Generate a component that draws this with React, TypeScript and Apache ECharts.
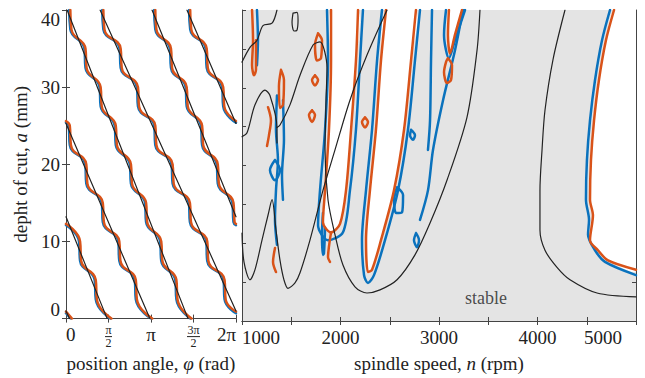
import React, { useEffect, useRef } from "react";
import * as echarts from "echarts";

const PI = Math.PI;
const FONT = "'Liberation Serif', 'DejaVu Serif', serif";
const INK = "#222222";
const ORANGE = "#d95319";
const BLUE = "#0a72bd";
const GRAY = "#e4e4e4";

// ---------- left panel: position angle (rad) vs depth of cut (mm) ----------
const angleTicks = [0, PI / 2, PI, (3 * PI) / 2, 2 * PI];
const angleTickLabels = ["0", "{n|π}\n{b| }\n{d|2}", "π", "{n|3π}\n{c| }\n{d|2}", "2π"];
const depthTickLabels = ["0", "10", "20", "30", "40"];

const angleLines: number[][][] = [
  [[0.04, 40], [4.51, 0]],
  [[1.26, 40], [6.283, 1.0]],
  [[0, 1.0], [0.13, 0]],
  [[3.18, 40], [6.283, 13.2]],
  [[0, 13.2], [1.52, 0]],
  [[4.47, 40], [6.283, 25.3]],
  [[0, 25.3], [3.1, 0]],
];

const angleOrange: number[][][] = [
  [[0.16, 40], [0.2, 37.5], [0.72, 35], [0.76, 32.5], [1.28, 30], [1.32, 27.5], [1.84, 25], [1.88, 22.5], [2.4, 20], [2.44, 17.5], [2.96, 15], [3.0, 12.5], [3.52, 10], [3.56, 7.5], [4.08, 5], [4.12, 2.5], [4.64, 0]],
  [[1.38, 40], [1.42, 37.5], [2.02, 35], [2.06, 32.5], [2.66, 30], [2.7, 27.5], [3.3, 25], [3.34, 22.5], [3.94, 20], [3.98, 17.5], [4.58, 15], [4.62, 12.5], [5.22, 10], [5.26, 7.5], [5.86, 5], [5.9, 2.5], [6.283, 0.9]],
  [[0, 0.9], [0.22, 0]],
  [[3.3, 40], [3.34, 37.5], [3.88, 35], [3.92, 32.5], [4.46, 30], [4.5, 27.5], [5.03, 25], [5.07, 22.5], [5.61, 20], [5.65, 17.5], [6.19, 15], [6.23, 12.5], [6.283, 12.27]],
  [[0, 12.27], [0.52, 10], [0.56, 7.5], [1.1, 5], [1.14, 2.5], [1.68, 0]],
  [[4.59, 40], [4.63, 37.5], [5.2, 35], [5.24, 32.5], [5.81, 30], [5.85, 27.5], [6.283, 25.6]],
  [[0, 25.6], [0.14, 25], [0.18, 22.5], [0.75, 20], [0.79, 17.5], [1.36, 15], [1.4, 12.5], [1.97, 10], [2.01, 7.5], [2.58, 5], [2.62, 2.5], [3.19, 0]],
];

const angleBlue: number[][][] = [
  [[0.12, 40], [0.16, 37.5], [0.68, 35], [0.72, 32.5], [1.24, 30], [1.28, 27.5], [1.8, 25], [1.84, 22.5], [2.36, 20], [2.4, 17.5], [2.92, 15], [2.96, 12.5], [3.48, 10], [3.52, 7.5], [4.04, 5], [4.08, 2.5], [4.6, 0]],
  [[1.34, 40], [1.38, 37.5], [1.98, 35], [2.02, 32.5], [2.62, 30], [2.66, 27.5], [3.26, 25], [3.3, 22.5], [3.9, 20], [3.94, 17.5], [4.54, 15], [4.58, 12.5], [5.18, 10], [5.22, 7.5], [5.82, 5], [5.86, 2.5], [6.283, 0.7]],
  [[0, 0.7], [0.18, 0]],
  [[3.26, 40], [3.3, 37.5], [3.84, 35], [3.88, 32.5], [4.42, 30], [4.46, 27.5], [4.99, 25], [5.03, 22.5], [5.57, 20], [5.61, 17.5], [6.15, 15], [6.19, 12.5], [6.283, 12.1]],
  [[0, 12.1], [0.48, 10], [0.52, 7.5], [1.06, 5], [1.1, 2.5], [1.64, 0]],
  [[4.55, 40], [4.59, 37.5], [5.16, 35], [5.2, 32.5], [5.77, 30], [5.81, 27.5], [6.283, 25.4]],
  [[0, 25.4], [0.1, 25], [0.14, 22.5], [0.71, 20], [0.75, 17.5], [1.32, 15], [1.36, 12.5], [1.93, 10], [1.97, 7.5], [2.54, 5], [2.58, 2.5], [3.15, 0]],
];

// ---------- right panel: spindle speed (rpm) vs depth of cut (mm) ----------
const speedTickLabels = ["1000", "2000", "3000", "4000", "5000"];

const lobeCurves: number[][][] = [
  [[4279, 40], [4157, 33.6], [4076, 27.1], [4046, 22.0], [4025, 16.8], [4025, 11.7], [4076, 9.1], [4198, 6.9], [4330, 5.3], [4604, 3.6], [5000, 3.1]],
  [[1000, 11.3], [1020, 7.6], [1081, 5.3], [1132, 6.6], [1203, 10.4], [1264, 13.6], [1305, 15.6], [1345, 11.7], [1386, 7.8], [1426, 5.3], [1467, 4.2], [1538, 4.9], [1589, 6.2], [1690, 10.4], [1822, 16.8], [1944, 22.0], [2096, 28.4], [2269, 34.2], [2472, 40]],
  [[3416, 40], [3386, 34.8], [3284, 26.2], [3081, 18.1], [2909, 12.6], [2756, 8.5], [2574, 5.3], [2401, 4.0], [2269, 3.6], [2147, 4.4], [2025, 7.2], [1944, 11.1], [1873, 15.6], [1843, 22.0], [1853, 28.4], [1863, 32.6], [1792, 35.9], [1721, 35.5], [1589, 31.6], [1487, 27.8], [1386, 25.2], [1355, 24.9]],
  [[1000, 23.7], [1051, 24.2], [1132, 27.8], [1233, 29.7], [1284, 29.0], [1355, 24.9], [1355, 22.9]],
  [[1000, 33.3], [1081, 35.2], [1152, 36.1], [1213, 38.0], [1305, 38.3], [1355, 40]],
  [[1518, 39.6], [1558, 39.7], [1569, 38.7], [1558, 37.4], [1528, 37.3], [1508, 38.4], [1518, 39.6]],
];

const unstableRegions: number[][][] = [
  [[1904, 40], [2178, 40], [2157, 33.5], [2107, 24.6], [2056, 16.8], [1995, 12.5], [1904, 11.4], [1822, 12.7], [1843, 16.8], [1883, 24.6], [1904, 33.5]],
  [[2462, 40], [2766, 40], [2716, 33.5], [2645, 24.6], [2543, 16.8], [2411, 10.4], [2320, 6.6], [2279, 6.3], [2259, 10.4], [2299, 16.8], [2360, 24.6], [2411, 33.5]],
  [[3101, 40], [3233, 40], [3162, 36.8], [3112, 34.4], [3091, 36.8]],
  [[4777, 40], [5000, 40], [5000, 6.6], [4716, 7.8], [4614, 9.1], [4533, 10.4], [4563, 13.6], [4533, 15.6], [4543, 20.7], [4574, 25.8], [4624, 31.0], [4695, 36.1]],
];

const speedBlue: number[][][] = [
  [[1863, 40], [1873, 33.5], [1843, 24.6], [1792, 16.8], [1772, 12.3], [1873, 10.4], [2025, 11.4], [2096, 16.8], [2157, 24.6], [2198, 33.5], [2228, 40]],
  [[2421, 40], [2371, 33.5], [2320, 24.6], [2259, 16.8], [2218, 10.4], [2239, 5.9], [2279, 4.9], [2340, 5.9], [2452, 10.4], [2584, 16.8], [2685, 24.6], [2756, 33.5], [2807, 40]],
  [[3071, 40], [3051, 36.8], [3101, 33.8], [3162, 36.1], [3264, 40]],
  [[4736, 40], [4655, 36.1], [4584, 31.0], [4533, 25.8], [4502, 20.7], [4492, 15.6], [4523, 13.0], [4513, 11.1], [4584, 9.1], [4685, 7.6], [5000, 5.9]],
  [[1152, 40], [1162, 36.1], [1152, 32.9]],
  [[1355, 29.0], [1345, 24.6], [1365, 20.7], [1345, 16.8], [1335, 13.0], [1355, 9.8]],
  [[1416, 28.4], [1426, 23.3], [1406, 18.8], [1416, 15.6]],
  [[1335, 20.7], [1386, 19.4], [1335, 18.1], [1284, 19.4], [1335, 20.7]],
  [[1822, 13.9], [1812, 11.1], [1822, 8.5], [1832, 8.7], [1843, 12.0]],
  [[2574, 17.2], [2635, 16.2], [2625, 14.0], [2564, 13.9], [2544, 15.6], [2574, 17.2]],
  [[2767, 11.3], [2797, 10.4], [2777, 9.5], [2746, 10.4], [2767, 11.3]],
  [[2716, 24.6], [2756, 23.9], [2736, 23.3], [2706, 23.9], [2716, 24.6]],
  [[3243, 40], [3162, 34.8], [3041, 28.4], [2939, 22.0], [2888, 16.8], [2807, 13.0]],
  [[2929, 40], [2919, 33.5], [2909, 25.8], [2888, 22.0]],
];

const speedOrange: number[][][] = [
  [[1904, 40], [1904, 33.5], [1883, 24.6], [1843, 16.8], [1822, 12.7], [1904, 11.4], [1995, 12.5], [2056, 16.8], [2107, 24.6], [2157, 33.5], [2178, 40]],
  [[2462, 40], [2411, 33.5], [2360, 24.6], [2299, 16.8], [2259, 10.4], [2279, 6.3], [2320, 6.6], [2411, 10.4], [2543, 16.8], [2645, 24.6], [2716, 33.5], [2766, 40]],
  [[3101, 40], [3091, 36.8], [3112, 34.4], [3162, 36.8], [3233, 40]],
  [[3091, 33.8], [3132, 32.9], [3122, 31.0], [3081, 30.6], [3051, 32.0], [3071, 33.3], [3091, 33.8]],
  [[4777, 40], [4695, 36.1], [4624, 31.0], [4574, 25.8], [4543, 20.7], [4533, 15.6], [4563, 13.6], [4533, 10.4], [4614, 9.1], [4716, 7.8], [5000, 6.6]],
  [[1102, 40], [1112, 36.1], [1102, 32.9], [1122, 31.6], [1142, 32.3], [1142, 36.1]],
  [[1772, 37.0], [1812, 36.1], [1802, 33.8], [1761, 33.5], [1741, 35.5], [1772, 37.0]],
  [[1396, 32.3], [1426, 31.0], [1416, 27.8], [1386, 27.4], [1375, 30.2], [1396, 32.3]],
  [[1264, 27.5], [1294, 25.8], [1274, 23.9], [1254, 22.5]],
  [[1335, 9.4], [1315, 7.6], [1345, 6.3]],
  [[1904, 11.4], [1883, 9.6], [1873, 8.2], [1893, 7.6]],
  [[1741, 31.6], [1772, 31.0], [1741, 30.3], [1711, 31.0], [1741, 31.6]],
  [[1711, 27.1], [1741, 26.5], [1711, 25.6], [1680, 26.5], [1711, 27.1]],
  [[2249, 26.2], [2279, 25.6], [2249, 24.9], [2218, 25.6], [2249, 26.2]],
];

const stableLabel = [[3477, 2.9]];

function lineSeries(segs: number[][][], color: string, width: number, xi: number, yi: number, z: number, smooth: number) {
  return segs.map((seg) => ({
    type: "line",
    xAxisIndex: xi,
    yAxisIndex: yi,
    data: seg,
    showSymbol: false,
    symbol: "none",
    smooth,
    clip: true,
    z,
    lineStyle: { color, width, cap: "round", join: "round" },
    silent: true,
  }));
}

export default function App() {
  const ref = useRef<HTMLDivElement>(null);
  useEffect(() => {
    if (!ref.current) return;
    const chart = echarts.init(ref.current, undefined, { renderer: "svg" });
    const tickLabel = { fontFamily: FONT, fontSize: 19, color: INK };
    const axisLine = { show: true, lineStyle: { color: "#444", width: 1 } };
    const tickIn = { show: true, inside: true, length: 4, lineStyle: { color: "#444" } };
    const nameStyle = {
      fontFamily: FONT,
      fontSize: 19,
      color: INK,
      rich: { i: { fontFamily: FONT, fontSize: 19, fontStyle: "italic", color: INK } },
    };
    const option: any = {
      animation: false,
      grid: [
        { left: 66, top: 10, width: 170, height: 311, show: true, backgroundColor: "#fff", borderWidth: 0 },
        { left: 242, top: 10, width: 394, height: 311, show: true, backgroundColor: GRAY, borderWidth: 0 },
      ],
      xAxis: [
        {
          gridIndex: 0, type: "value", min: 0, max: 2 * PI, interval: PI / 2,
          axisLine, axisTick: tickIn, splitLine: { show: false },
          axisLabel: {
            ...tickLabel, margin: 6, alignMinLabel: "left", alignMaxLabel: "right",
            formatter: (v: number) => {
              const i = angleTicks.findIndex((t) => Math.abs(t - v) < 1e-6);
              return i >= 0 ? angleTickLabels[i] : "";
            },
            rich: {
              n: { fontFamily: FONT, fontSize: 12, lineHeight: 11, color: INK },
              b: { fontSize: 1, width: 7, height: 1, lineHeight: 2, backgroundColor: INK },
              c: { fontSize: 1, width: 13, height: 1, lineHeight: 2, backgroundColor: INK },
              d: { fontFamily: FONT, fontSize: 12, lineHeight: 11, color: INK },
            },
          },
          name: "position angle, {i|φ} (rad)", nameLocation: "middle", nameGap: 33, nameTextStyle: nameStyle,
        },
        {
          gridIndex: 0, type: "value", min: 0, max: 2 * PI, interval: PI / 2, position: "top",
          axisLine, axisTick: tickIn, axisLabel: { show: false }, splitLine: { show: false },
        },
        {
          gridIndex: 1, type: "value", min: 1000, max: 5000, interval: 500,
          axisLine, axisTick: tickIn, splitLine: { show: false },
          axisLabel: {
            ...tickLabel, margin: 7, alignMinLabel: "left", alignMaxLabel: "right",
            formatter: (v: number) => {
              const s = String(Math.round(v));
              if (!speedTickLabels.includes(s)) return "";
              return s === "5000" ? "{r|" + s + "}" : s;
            },
            rich: { r: { fontFamily: FONT, fontSize: 19, color: INK, padding: [0, 14, 0, 0] } },
          },
          name: "spindle speed, {i|n} (rpm)", nameLocation: "middle", nameGap: 33, nameTextStyle: nameStyle,
        },
        {
          gridIndex: 1, type: "value", min: 1000, max: 5000, interval: 500, position: "top",
          axisLine, axisTick: tickIn, axisLabel: { show: false }, splitLine: { show: false },
        },
      ],
      yAxis: [
        {
          gridIndex: 0, type: "value", min: 0, max: 40, interval: 10,
          axisLine, axisTick: tickIn, splitLine: { show: false },
          axisLabel: {
            ...tickLabel, margin: 6,
            verticalAlignMinLabel: "bottom", verticalAlignMaxLabel: "top",
            formatter: (v: number) => (depthTickLabels.includes(String(v)) ? String(v) : ""),
          },
          name: "depht of cut, {i|a} (mm)", nameLocation: "middle", nameGap: 36, nameRotate: 90, nameTextStyle: nameStyle,
        },
        {
          gridIndex: 0, type: "value", min: 0, max: 40, interval: 10, position: "right",
          axisLine, axisTick: tickIn, axisLabel: { show: false }, splitLine: { show: false },
        },
        {
          gridIndex: 1, type: "value", min: 0, max: 40, interval: 5,
          axisLine, axisTick: tickIn, axisLabel: { show: false }, splitLine: { show: false },
        },
        {
          gridIndex: 1, type: "value", min: 0, max: 40, interval: 5, position: "right",
          axisLine, axisTick: tickIn, axisLabel: { show: false }, splitLine: { show: false },
        },
      ],
      series: [
        {
          type: "custom",
          xAxisIndex: 2,
          yAxisIndex: 2,
          silent: true,
          clip: true,
          z: 1,
          data: unstableRegions.map((r) => r[0]),
          renderItem: (params: any, api: any) => {
            const poly = unstableRegions[params.dataIndex];
            return {
              type: "polygon",
              shape: { points: poly.map((p) => api.coord(p)), smooth: 0.3 },
              style: { fill: "#ffffff" },
            };
          },
        },
        ...lineSeries(angleBlue, BLUE, 2.5, 0, 0, 3, 0.5),
        ...lineSeries(angleOrange, ORANGE, 2.5, 0, 0, 4, 0.5),
        ...lineSeries(angleLines, INK, 1.2, 0, 0, 5, 0),
        ...lineSeries(speedBlue, BLUE, 2.5, 2, 2, 3, 0.3),
        ...lineSeries(speedOrange, ORANGE, 2.5, 2, 2, 4, 0.3),
        ...lineSeries(lobeCurves, INK, 1.2, 2, 2, 5, 0.3),
        {
          type: "scatter",
          xAxisIndex: 2,
          yAxisIndex: 2,
          data: stableLabel,
          symbolSize: 0,
          silent: true,
          z: 6,
          label: { show: true, position: "inside", formatter: "stable", fontFamily: FONT, fontSize: 18, color: INK },
        },
      ],
    };
    chart.setOption(option);
    return () => chart.dispose();
  }, []);
  return <div ref={ref} style={{ position: "absolute", left: 0, top: 0, width: 645, height: 378 }} />;
}
